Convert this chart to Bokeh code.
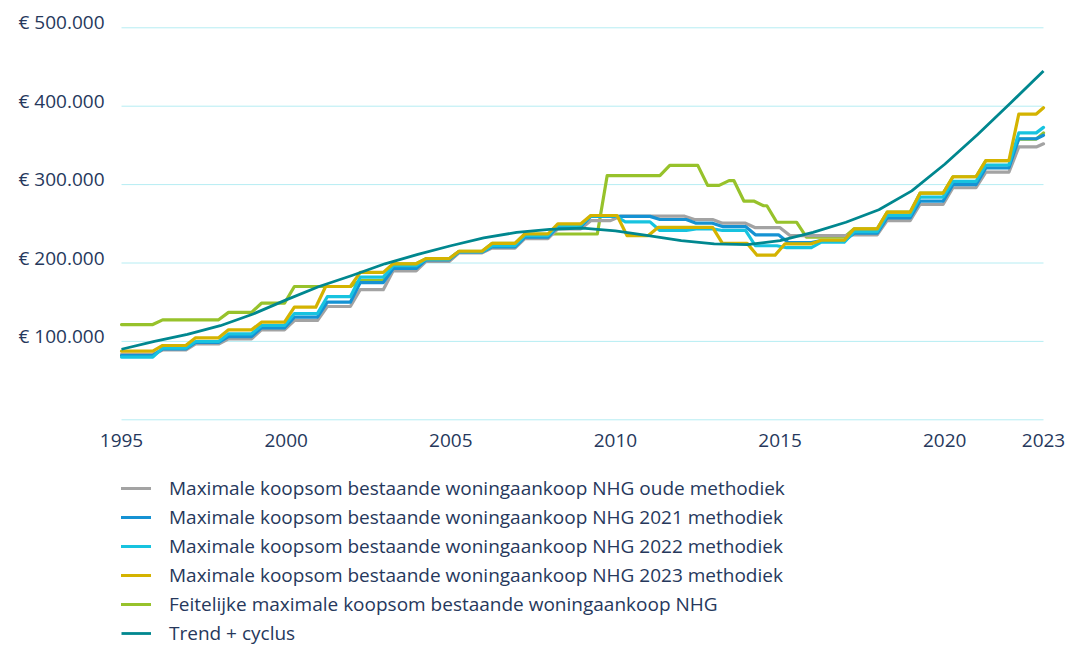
from bokeh.plotting import figure
from bokeh.models import FixedTicker, Legend, LegendItem, Range1d
from bokeh.embed import file_html
from bokeh.resources import INLINE

# ---------------- data ----------------
X_START, X_END = 1995, 2023

x_ticks = [1995, 2000, 2005, 2010, 2015, 2020, 2023]
x_labels = ["1995", "2000", "2005", "2010", "2015", "2020", "2023"]
y_ticks = [0, 100000, 200000, 300000, 400000, 500000]
y_labels = ["", "€ 100.000", "€ 200.000", "€ 300.000", "€ 400.000", "€ 500.000"]

# step series: moment a new level starts (year) and the level (EUR)
gray_t = [1995, 1996.1, 1997.1, 1998.1, 1999.1, 2000.1, 2001.1, 2002.1, 2003.1, 2004.1,
          2005.1, 2006.1, 2007.1, 2008.1, 2009.1, 2010.0, 2012.25, 2013.1, 2014.1, 2015.15,
          2017.1, 2018.1, 2019.1, 2020.1, 2021.1, 2022.1, 2022.93]
gray_v = [83500, 89000, 96700, 103300, 114800, 126700, 144500, 166000, 190000, 202000,
          213000, 219000, 231000, 243600, 254000, 259700, 255500, 250800, 245000, 235000,
          236000, 254000, 274600, 296000, 315800, 348000, 352000]

blue_t = [1995, 1996.1, 1997.1, 1998.1, 1999.1, 2000.1, 2001.1, 2002.1, 2003.1, 2004.1,
          2005.1, 2006.1, 2007.1, 2008.1, 2009.1, 2011.2, 2012.3, 2013.1, 2014.1, 2015.1,
          2016.1, 2017.1, 2018.1, 2019.1, 2020.1, 2021.1, 2022.1, 2022.93]
blue_v = [82000, 90500, 98600, 106200, 117300, 130900, 150000, 175000, 193000, 204000,
          214000, 220500, 233000, 246500, 259500, 255500, 250800, 246500, 236000, 226000,
          228500, 238000, 257600, 279000, 300000, 321400, 358500, 363000]

cyan_t = [1995, 1996.1, 1997.1, 1998.1, 1999.1, 2000.1, 2001.1, 2002.1, 2003.1, 2004.1,
          2005.1, 2006.1, 2007.1, 2008.1, 2009.1, 2010.15, 2011.2, 2012.3, 2013.1, 2014.1,
          2015.05, 2016.1, 2017.1, 2018.1, 2019.1, 2020.1, 2021.1, 2022.1, 2022.93]
cyan_v = [80000, 91500, 99900, 109700, 120300, 135500, 157000, 182000, 196500, 205000,
          214500, 222000, 235000, 248000, 260000, 252500, 241500, 243500, 241500, 222000,
          219500, 226500, 240000, 260600, 284000, 304000, 325000, 366000, 373000]

yellow_t = [1995, 1996.1, 1997.1, 1998.1, 1999.1, 2000.1, 2001.05, 2002.1, 2003.1, 2004.1,
            2005.1, 2006.1, 2007.1, 2008.1, 2009.1, 2010.2, 2011.15, 2013.1, 2014.15, 2015.0,
            2016.1, 2017.1, 2018.1, 2019.1, 2020.1, 2021.1, 2022.1, 2022.93]
yellow_v = [87500, 94800, 104600, 114800, 124500, 143600, 170000, 188000, 199000, 205500,
            215000, 225000, 237000, 250000, 260600, 235000, 245500, 225000, 210000, 224500,
            229000, 243600, 264800, 289000, 310000, 330700, 390000, 398000]

green_t = [1995, 1996.1, 1998.1, 1999.1, 2000.1, 2002.1, 2003.1, 2004.1, 2005.1, 2006.1,
           2007.1, 2009.6, 2011.5, 2012.65, 2013.3, 2013.75, 2014.35, 2014.75, 2015.65,
           2017.1, 2018.1, 2019.1, 2020.1, 2021.1, 2022.1, 2022.93]
green_v = [121500, 127500, 137000, 148700, 170000, 177700, 199000, 205500, 215000, 225000,
           237000, 311500, 324500, 299000, 305000, 279000, 273000, 252000, 233000,
           243600, 264800, 289000, 310000, 330700, 358000, 366000]

trend_years = [1995, 1996, 1997, 1998, 1999, 2000, 2001, 2002, 2003, 2004, 2005, 2006, 2007,
               2008, 2009, 2010, 2011, 2012, 2013, 2014, 2015, 2016, 2017, 2018, 2019, 2020,
               2021, 2022, 2023]
trend_v = [90000, 100000, 109000, 120000, 135000, 153000, 170000, 184000, 199000, 211000,
           222000, 232000, 239000, 243000, 244500, 241000, 235000, 228500, 224500, 223500,
           228500, 239000, 252000, 268000, 292000, 326000, 364000, 404000, 445000]

labels = [
    "Maximale koopsom bestaande woningaankoop NHG oude methodiek",
    "Maximale koopsom bestaande woningaankoop NHG 2021 methodiek",
    "Maximale koopsom bestaande woningaankoop NHG 2022 methodiek",
    "Maximale koopsom bestaande woningaankoop NHG 2023 methodiek",
    "Feitelijke maximale koopsom bestaande woningaankoop NHG",
    "Trend + cyclus",
]
colors = ["#a3a3a3", "#1592d3", "#17c3df", "#d4b300", "#97c22b", "#00878f"]

FONT = "Open Sans"
TEXT_COLOR = "#26385c"

# ---------------- layout (screen pixels) ----------------
WIDTH, HEIGHT = 1076, 646
PLOT_LEFT, PLOT_RIGHT = 121, 1043      # x of 1995 and 2023
PLOT_TOP, PLOT_ZERO = 27.3, 419.3      # y of 500k and of 0
LABEL_LIFT = 5.5                       # value labels sit just above their grid line

px_per_year = (PLOT_RIGHT - PLOT_LEFT) / (X_END - X_START)
px_per_eur = (PLOT_ZERO - PLOT_TOP) / 500000
x_lo = X_START - PLOT_LEFT / px_per_year
x_hi = X_END + (WIDTH - PLOT_RIGHT) / px_per_year
y_hi = 500000 + PLOT_TOP / px_per_eur
y_lo = -(HEIGHT - PLOT_ZERO) / px_per_eur


def step_path(ts, vs, ramp=0.15, end=X_END):
    xs, ys = [ts[0]], [vs[0]]
    for i in range(1, len(ts)):
        xs += [ts[i] - ramp, min(ts[i] + ramp, end)]
        ys += [vs[i - 1], vs[i]]
    if xs[-1] < end:
        xs.append(end)
        ys.append(vs[-1])
    return xs, ys


p = figure(width=WIDTH, height=HEIGHT, x_range=Range1d(x_lo, x_hi),
           y_range=Range1d(y_lo, y_hi), output_backend="svg", toolbar_location=None,
           min_border_left=0, min_border_right=0, min_border_top=0, min_border_bottom=0)
p.outline_line_color = None
p.background_fill_color = "white"
p.border_fill_color = "white"
p.xgrid.visible = False
p.ygrid.visible = False

# horizontal grid lines, only across the plotted years
p.segment(x0=[X_START] * len(y_ticks), x1=[X_END] * len(y_ticks), y0=y_ticks, y1=y_ticks,
          line_color="#b6edf3", line_width=1)

for ax in (p.xaxis, p.yaxis):
    ax.axis_line_color = None
    ax.major_tick_line_color = None
    ax.minor_tick_line_color = None
    ax.major_tick_out = 0
    ax.major_tick_in = 0
    ax.major_label_text_font = FONT
    ax.major_label_text_font_size = "19px"
    ax.major_label_text_color = TEXT_COLOR

p.xaxis.ticker = FixedTicker(ticks=x_ticks)
p.xaxis.major_label_overrides = dict(zip(x_ticks, x_labels))
p.xaxis.major_label_standoff = 14
p.xaxis.fixed_location = 0

label_pos = [v + LABEL_LIFT / px_per_eur for v in y_ticks]
p.yaxis.ticker = FixedTicker(ticks=label_pos)
p.yaxis.major_label_overrides = dict(zip(label_pos, y_labels))
p.yaxis.major_label_standoff = 17
p.yaxis.fixed_location = X_START

series = [(gray_t, gray_v), (blue_t, blue_v), (cyan_t, cyan_v), (yellow_t, yellow_v),
          (green_t, green_v)]
renderers = [None] * 6
draw_order = [4, 0, 1, 2, 3]
for i in draw_order:
    xs, ys = step_path(*series[i])
    renderers[i] = p.line(xs, ys, line_color=colors[i], line_width=3.2,
                          line_join="round", line_cap="round")
renderers[5] = p.line(trend_years, trend_v, line_color=colors[5], line_width=2.8,
                      line_join="round")

items = [LegendItem(label=labels[i], renderers=[renderers[i]]) for i in range(6)]
legend = Legend(items=items, location=(PLOT_LEFT, 0), orientation="vertical",
                glyph_width=30, glyph_height=20, label_height=20, spacing=3,
                label_standoff=18, padding=0, margin=0,
                border_line_color=None, background_fill_alpha=0,
                label_text_font=FONT, label_text_font_size="19px",
                label_text_color=TEXT_COLOR)
p.add_layout(legend)

open("out.html", "w").write(file_html(p, INLINE))
